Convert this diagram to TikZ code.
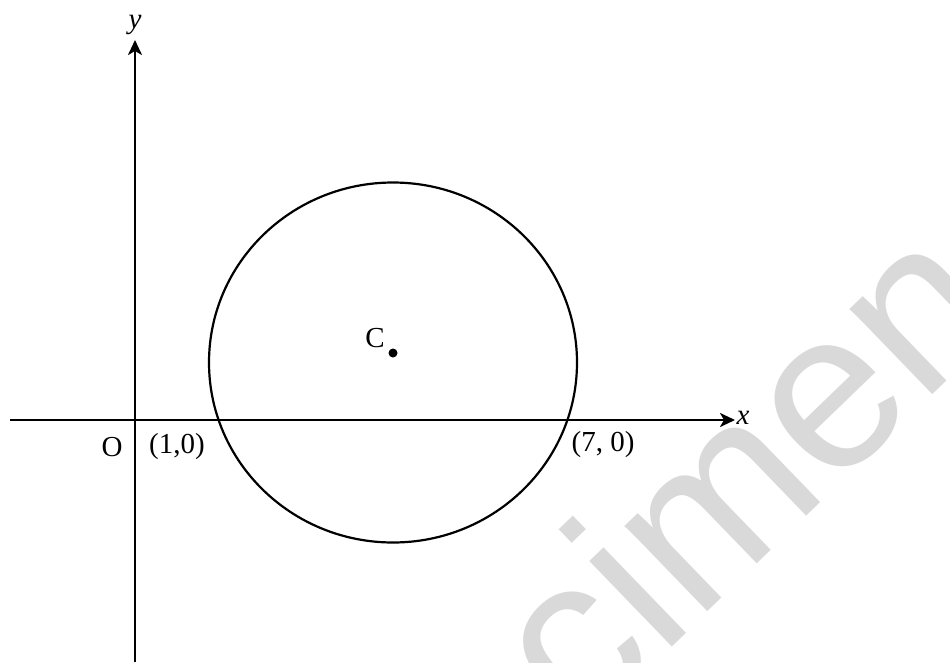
\documentclass[tikz,border=0pt]{standalone}
\usepackage{fontspec}
\setmainfont{Liberation Serif}
\newfontfamily\wmfont{Liberation Sans}
\usetikzlibrary{arrows.meta}
\definecolor{wmgray}{RGB}{217,217,217}
\tikzset{
  axis/.style={line width=2.4pt, -{Stealth[length=15pt,width=14pt,inset=4pt]}},
  curve/.style={line width=2.2pt},
  lbl/.style={inner sep=0pt, font=\fontsize{29}{32}\selectfont},
  wm/.style={inner sep=0pt, text=wmgray, font=\wmfont\fontsize{225}{225}\selectfont}
}
\begin{document}
\begin{tikzpicture}[x=1pt,y=-1pt]
\useasboundingbox (0,0) rectangle (950,662);
\begin{scope}
  \clip (0,0) rectangle (950,662);
  \node[wm, rotate=44, anchor=base west] (wmk) at (292,1014) {Specimen};
\end{scope}
% axes
\coordinate (xs) at (10,420);
\coordinate (xe) at (735,420);
\coordinate (ys) at (135,662);
\coordinate (ye) at (135,40);
\draw[axis] (xs) -- (xe);
\draw[axis] (ys) -- (ye);
\node[lbl] (xl) at (743,418) {\textit{x}};
\node[lbl] (yl) at (135,25) {\textit{y}};
% circle
\coordinate (ctr) at (393,362.5);
\draw[curve] (ctr) ellipse [x radius=184, y radius=180];
\fill (393,353) circle [radius=4.5] coordinate (cdot);
\node[lbl] (cl) at (375,338) {C};
% labels
\node[lbl] (ol) at (112,447) {O};
\node[lbl] (p1) at (177,447) {(1,0)};
\node[lbl] (p7) at (603,445) {(7, 0)};
\end{tikzpicture}
\end{document}
